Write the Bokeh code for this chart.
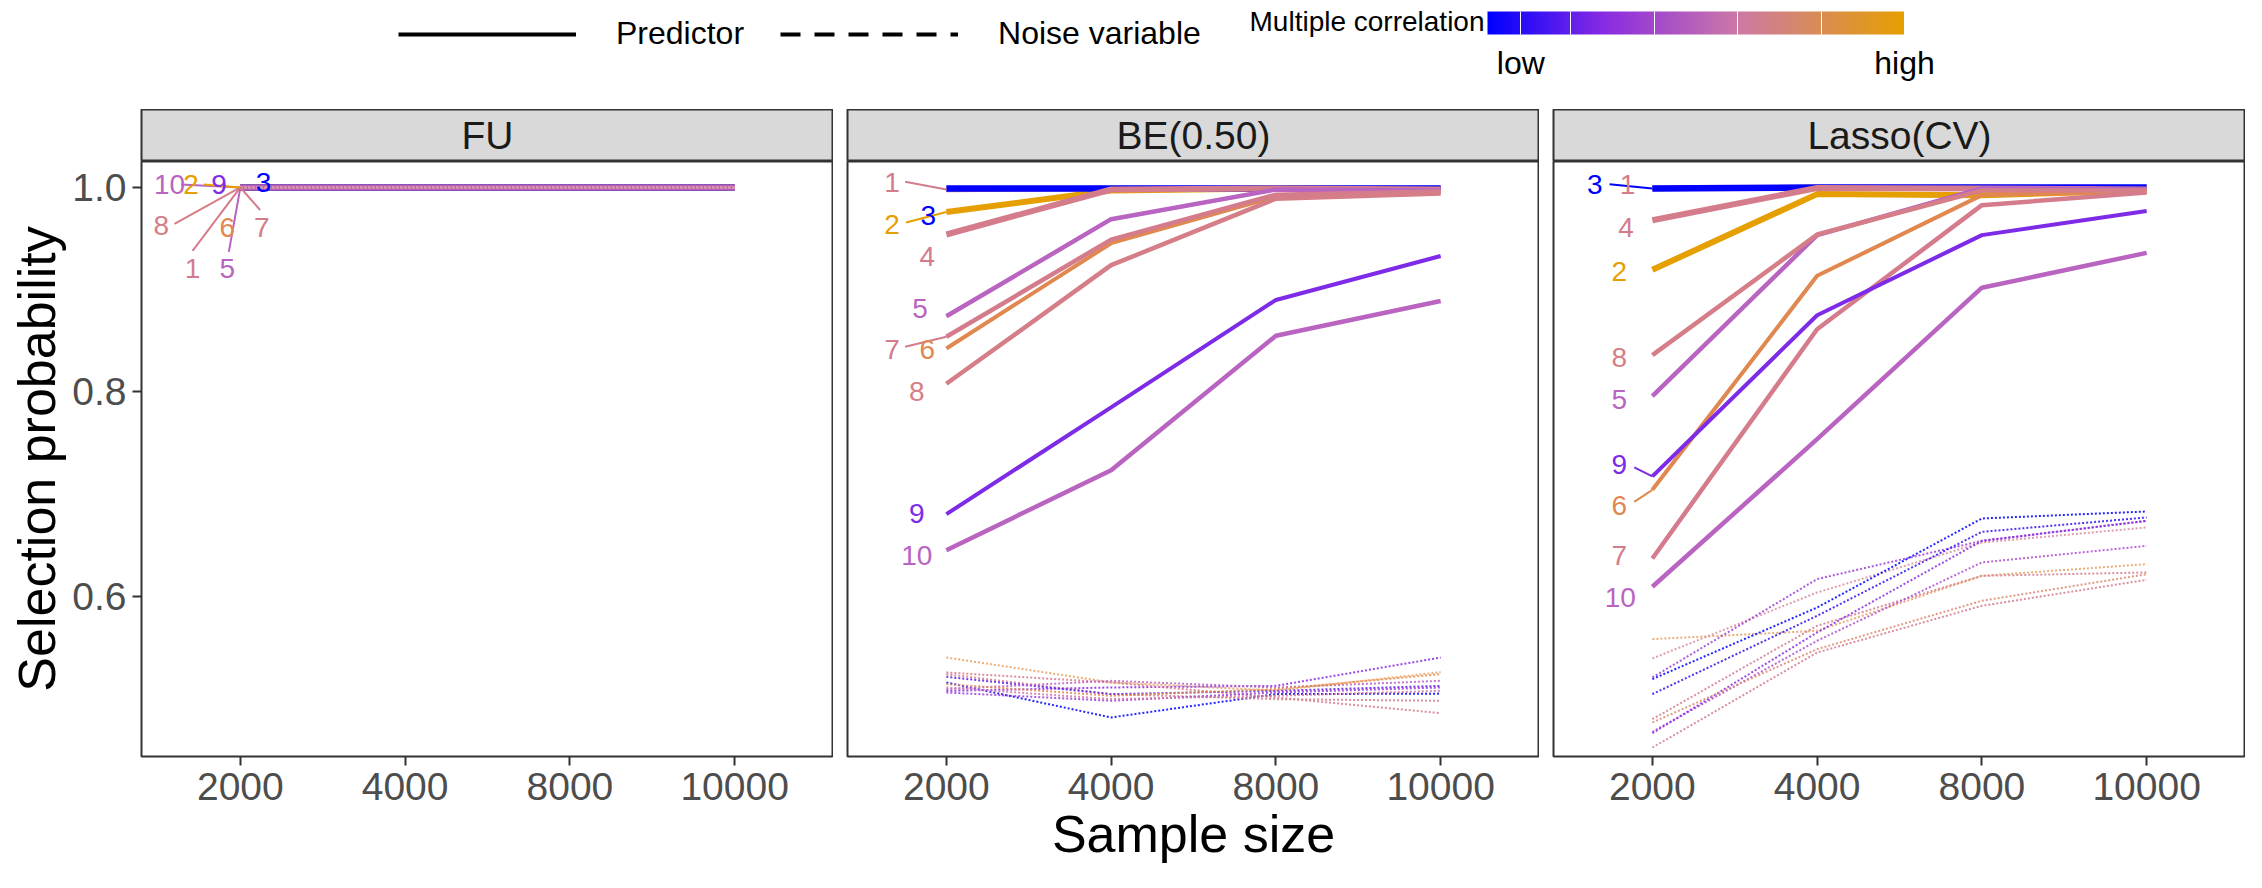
import numpy as np
from bokeh.plotting import figure
from bokeh.models import (FactorRange, Range1d, FixedTicker, Label, Legend, LegendItem,
                          ColorBar, LinearColorMapper, PrintfTickFormatter)
from bokeh.layouts import column, row
from bokeh.embed import file_html
from bokeh.resources import INLINE
from bokeh.core.properties import value

# ---------------- data ----------------
SAMPLE_SIZES = ["2000", "4000", "8000", "10000"]
METHODS = ["FU", "BE(0.50)", "Lasso(CV)"]
PREDICTORS = ["1", "2", "3", "4", "5", "6", "7", "8", "9", "10"]

FU_PRED = {v: [1.0, 1.0, 1.0, 1.0] for v in PREDICTORS}
BE_PRED = {
    "1": [0.998, 0.999, 0.999, 0.999],
    "2": [0.976, 0.997, 0.999, 0.998],
    "3": [0.999, 0.999, 0.999, 0.999],
    "4": [0.954, 0.998, 0.999, 0.998],
    "5": [0.874, 0.969, 0.998, 0.997],
    "6": [0.8425, 0.9455, 0.991, 0.995],
    "7": [0.854, 0.949, 0.993, 0.996],
    "8": [0.808, 0.924, 0.989, 0.994],
    "9": [0.6805, 0.785, 0.890, 0.933],
    "10": [0.6453, 0.7235, 0.855, 0.889],
}
LASSO_PRED = {
    "1": [0.999, 1.0, 1.0, 0.999],
    "2": [0.9195, 0.9935, 0.9925, 0.997],
    "3": [0.999, 1.0, 1.0, 1.0],
    "4": [0.968, 0.9995, 0.999, 0.998],
    "5": [0.796, 0.9534, 0.999, 0.998],
    "6": [0.7043, 0.9136, 0.9925, 0.996],
    "7": [0.6372, 0.8614, 0.9827, 0.995],
    "8": [0.836, 0.954, 0.997, 0.997],
    "9": [0.7174, 0.875, 0.9534, 0.977],
    "10": [0.6095, 0.7539, 0.902, 0.936],
}
NOISE_IDS = ["N1", "N2", "N3", "N4", "N5", "N6", "N7", "N8", "N9", "N10"]
FU_NOISE = {n: [1.0, 1.0, 1.0, 1.0] for n in NOISE_IDS}
BE_NOISE = {
    "N1": [0.5403, 0.516, 0.508, 0.526],
    "N2": [0.5159, 0.4817, 0.5045, 0.505],
    "N3": [0.5077, 0.511, 0.5126, 0.5403],
    "N4": [0.5257, 0.5159, 0.5012, 0.4859],
    "N5": [0.524, 0.5045, 0.4996, 0.498],
    "N6": [0.5214, 0.5045, 0.5077, 0.5126],
    "N7": [0.5094, 0.5175, 0.511, 0.5175],
    "N8": [0.5143, 0.5029, 0.5094, 0.524],
    "N9": [0.5061, 0.498, 0.5061, 0.511],
    "N10": [0.511, 0.4996, 0.5029, 0.5077],
}
LASSO_NOISE = {
    "N1": [0.5583, 0.5664, 0.6202, 0.6316],
    "N2": [0.5394, 0.6039, 0.6528, 0.6675],
    "N3": [0.5208, 0.617, 0.6544, 0.674],
    "N4": [0.5192, 0.5892, 0.6763, 0.6831],
    "N5": [0.5045, 0.5811, 0.6632, 0.6773],
    "N6": [0.48, 0.5713, 0.6202, 0.6235],
    "N7": [0.4677, 0.5567, 0.6333, 0.6495],
    "N8": [0.4663, 0.5648, 0.6544, 0.674],
    "N9": [0.4523, 0.5452, 0.5909, 0.6163],
    "N10": [0.4768, 0.5485, 0.5958, 0.6218],
}
Y_TICKS = [0.6, 0.8, 1.0]

# ---------------- styles ----------------
PRED_COLOR = {"1": "#D47C8C", "2": "#E69F00", "3": "#0000FF", "4": "#D47C8C", "5": "#B964C0",
              "6": "#E0884F", "7": "#D47C8C", "8": "#D67E88", "9": "#7D2BE6", "10": "#B964C0"}
PRED_WIDTH = {"1": 5.5, "2": 6, "3": 6.5, "4": 6, "5": 4.5, "6": 4, "7": 4.5, "8": 4.5, "9": 4, "10": 4.5}
NOISE_COLOR = {
    "BE": {"N1": "#E8A060", "N2": "#0000FF", "N3": "#8A2BE2", "N4": "#D47C8C", "N5": "#D47C8C",
           "N6": "#5A1EF0", "N7": "#B964C0", "N8": "#E0884F", "N9": "#9B40D8", "N10": "#CC79A7"},
    "Lasso": {"N1": "#E8A060", "N2": "#D8909C", "N3": "#9B40D8", "N4": "#0000FF", "N5": "#3010F0",
              "N6": "#D47C8C", "N7": "#B050D0", "N8": "#8A2BE2", "N9": "#D47C8C", "N10": "#DC8A70"},
    "FU": {n: "#D890B0" for n in NOISE_IDS},
}
# label placement (category offset from "2000", y position)
LABEL_POS = {
    "FU": {"10": (-0.43, 1.0025), "2": (-0.30, 1.0025), "9": (-0.13, 1.0025), "3": (0.14, 1.0045),
           "8": (-0.48, 0.9625), "6": (-0.08, 0.961), "7": (0.13, 0.961),
           "1": (-0.29, 0.921), "5": (-0.08, 0.921)},
    "BE": {"1": (-0.33, 1.0049), "2": (-0.33, 0.9641), "3": (-0.11, 0.9723), "4": (-0.115, 0.9325),
           "5": (-0.16, 0.8817), "7": (-0.33, 0.8419), "6": (-0.115, 0.8413), "8": (-0.18, 0.8005),
           "9": (-0.18, 0.6812), "10": (-0.18, 0.6404)},
    "Lasso": {"3": (-0.35, 1.0026), "1": (-0.15, 1.0026), "4": (-0.16, 0.9609), "2": (-0.20, 0.9176),
              "8": (-0.20, 0.8337), "5": (-0.20, 0.793), "9": (-0.20, 0.7294), "6": (-0.20, 0.6893),
              "7": (-0.20, 0.6398), "10": (-0.195, 0.599)},
}
LEADER_START = {
    "FU": {"8": (-0.40, 0.9645), "1": (-0.29, 0.938), "5": (-0.07, 0.937), "7": (0.12, 0.978),
           "10": (-0.36, 1.003), "2": (-0.22, 1.003)},
    "BE": {"1": (-0.25, 1.0056), "2": (-0.245, 0.9658), "7": (-0.25, 0.8442)},
    "Lasso": {"3": (-0.26, 1.0032), "9": (-0.11, 0.7262), "6": (-0.11, 0.6926)},
}

FONT = "Liberation Sans"
Y_LO, Y_HI = 0.4435, 1.0254
FRAME_W = 692
LEFT_W = 141
GAP = 14
RIGHT_PAD = 0
LEG_H = 109
STRIP_H = 52
FRAME_H = 595
BOTTOM_H = 116
TOTAL_W = LEFT_W + FRAME_W + 2 * (GAP + FRAME_W) + RIGHT_PAD
TICK_FS = "39px"
TITLE_FS = "52px"
LEG_FS = "32px"

# colour scale
anchors = ["#0000FF", "#8A2BE2", "#CC79A7", "#E69F00"]
anchor_pos = [0.0, 0.28, 0.6, 1.0]
def _rgb(h):
    return [int(h[i:i + 2], 16) for i in (1, 3, 5)]
arr = np.array([_rgb(a) for a in anchors], dtype=float)
tt = np.linspace(0, 1, 256)
PALETTE = ["#%02x%02x%02x" % tuple(int(round(np.interp(t, anchor_pos, arr[:, c]))) for c in range(3)) for t in tt]

# ---------------- legend figure ----------------
leg = figure(width=TOTAL_W, height=LEG_H, x_range=Range1d(0, TOTAL_W), y_range=Range1d(0, LEG_H),
             toolbar_location=None, output_backend="svg", x_axis_location=None, y_axis_location=None,
             min_border=0)
leg.grid.visible = False
leg.outline_line_color = None
r_solid = leg.line(x=[np.nan], y=[np.nan], line_color="black", line_width=4)
r_dash = leg.line(x=[np.nan], y=[np.nan], line_color="black", line_width=4, line_dash="20 14")
legend = Legend(items=[LegendItem(label="Predictor", renderers=[r_solid]),
                       LegendItem(label="Noise variable", renderers=[r_dash])],
                orientation="horizontal", location=(398, 57), glyph_width=178, glyph_height=32,
                label_height=32, label_standoff=40, spacing=36, padding=0, margin=0,
                border_line_color=None, background_fill_alpha=0,
                label_text_font_size=LEG_FS, label_text_font=FONT, label_text_color="black")
leg.add_layout(legend)
mapper = LinearColorMapper(palette=PALETTE, low=0, high=1)
cb = ColorBar(color_mapper=mapper, orientation="horizontal", width=417, height=23,
              location=(1487, 26), padding=0, margin=0,
              ticker=FixedTicker(ticks=[0.08, 0.2, 0.4, 0.6, 0.8, 1.0]),
              major_label_overrides={0.08: "low", 0.2: "", 0.4: "", 0.6: "", 0.8: "", 1: "high"},
              major_label_text_font=FONT, major_label_text_font_size=LEG_FS,
              major_label_text_color="black", label_standoff=10,
              major_tick_line_color="white", major_tick_in=23, major_tick_out=0,
              minor_tick_line_color=None, bar_line_color=None, background_fill_alpha=0,
              border_line_color=None)
leg.add_layout(cb)
leg.add_layout(Label(x=1484, y=LEG_H - 21, text="Multiple correlation", text_align="right",
                     text_baseline="middle", text_font=FONT, text_font_size="28px", text_color="black"))


def make_strip(title, left, right):
    s = figure(width=left + FRAME_W + right, height=STRIP_H, x_range=Range1d(0, 1), y_range=Range1d(0, 1),
               toolbar_location=None, output_backend="svg", x_axis_location=None, y_axis_location=None,
               min_border=0, min_border_left=left, min_border_right=right)
    s.grid.visible = False
    s.background_fill_color = "#D9D9D9"
    s.outline_line_color = "#333333"
    s.outline_line_width = 2
    s.add_layout(Label(x=0.5, y=0.5, text=title, text_align="center", text_baseline="middle",
                       text_font=FONT, text_font_size="39px", text_color="#1A1A1A"))
    return s


def make_panel(key, pred, noise, left, right, first, xlabel):
    p = figure(width=left + FRAME_W + right, height=FRAME_H + BOTTOM_H,
               x_range=FactorRange(factors=SAMPLE_SIZES, range_padding=0.1, range_padding_units="absolute"),
               y_range=Range1d(Y_LO, Y_HI), toolbar_location=None, output_backend="svg",
               y_axis_location="left" if first else None,
               min_border=0, min_border_left=left, min_border_right=right, min_border_bottom=BOTTOM_H)
    p.grid.visible = False
    p.outline_line_color = "#333333"
    p.outline_line_width = 2
    ax = p.xaxis[0]
    ax.axis_line_color = None
    ax.major_tick_line_color = "#333333"
    ax.major_tick_line_width = 2
    ax.major_tick_in = 0
    ax.major_tick_out = 9
    ax.major_label_text_font = FONT
    ax.major_label_text_font_size = TICK_FS
    ax.major_label_text_color = "#4D4D4D"
    ax.major_label_standoff = 7
    if xlabel:
        ax.axis_label = xlabel
        ax.axis_label_text_font = FONT
        ax.axis_label_text_font_size = TITLE_FS
        ax.axis_label_text_font_style = "normal"
        ax.axis_label_text_color = "black"
        ax.axis_label_standoff = 2
    if first:
        ay = p.yaxis[0]
        ay.ticker = FixedTicker(ticks=Y_TICKS)
        ay.formatter = PrintfTickFormatter(format="%.1f")
        ay.axis_line_color = None
        ay.major_tick_line_color = "#333333"
        ay.major_tick_line_width = 2
        ay.major_tick_in = 0
        ay.major_tick_out = 9
        ay.minor_tick_line_color = None
        ay.major_label_text_font = FONT
        ay.major_label_text_font_size = TICK_FS
        ay.major_label_text_color = "#4D4D4D"
        ay.major_label_standoff = 6
        ay.axis_label = "Selection probability"
        ay.axis_label_text_font = FONT
        ay.axis_label_text_font_size = TITLE_FS
        ay.axis_label_text_font_style = "normal"
        ay.axis_label_text_color = "black"
        ay.axis_label_standoff = 3

    for v in PREDICTORS:
        p.line(x=SAMPLE_SIZES, y=pred[v], line_color=PRED_COLOR[v], line_width=PRED_WIDTH[v])
    for n in NOISE_IDS:
        p.line(x=SAMPLE_SIZES, y=noise[n], line_color=NOISE_COLOR[key][n], line_width=2,
               line_dash="2 2", line_alpha=0.85)

    ls = LEADER_START[key]
    if ls:
        names = list(ls.keys())
        p.segment(x0=[(SAMPLE_SIZES[0], ls[v][0]) for v in names], y0=[ls[v][1] for v in names],
                  x1=[(SAMPLE_SIZES[0], 0.0) for v in names], y1=[pred[v][0] for v in names],
                  line_color=[PRED_COLOR[v] for v in names], line_width=2)
    lp = LABEL_POS[key]
    names = list(lp.keys())
    p.text(x=[(SAMPLE_SIZES[0], lp[v][0]) for v in names], y=[lp[v][1] for v in names], text=names,
           text_color=[PRED_COLOR[v] for v in names], text_font=value(FONT), text_font_size="28px",
           text_align="center", text_baseline="middle")
    return p


s1 = make_strip(METHODS[0], LEFT_W, 0)
s2 = make_strip(METHODS[1], GAP, 0)
s3 = make_strip(METHODS[2], GAP, RIGHT_PAD)
p1 = make_panel("FU", FU_PRED, FU_NOISE, LEFT_W, 0, True, None)
p2 = make_panel("BE", BE_PRED, BE_NOISE, GAP, 0, False, "Sample size")
p3 = make_panel("Lasso", LASSO_PRED, LASSO_NOISE, GAP, RIGHT_PAD, False, None)

layout = column(leg, row(column(s1, p1), column(s2, p2), column(s3, p3)))
open("out.html", "w").write(file_html(layout, INLINE))
